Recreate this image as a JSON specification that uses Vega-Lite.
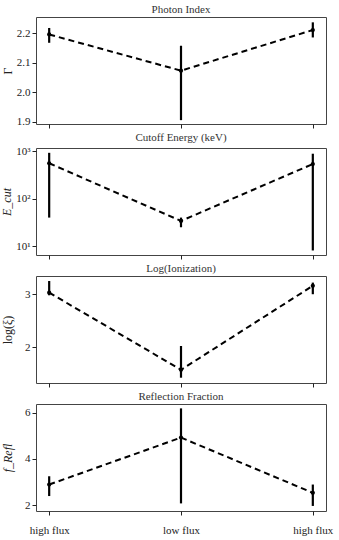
{
  "$schema": "https://vega.github.io/schema/vega-lite/v6.json",
  "padding": {"left": 0, "top": 3, "right": 10, "bottom": 1},
  "spacing": 2,
  "resolve": {"scale": {"y": "independent", "x": "independent"}, "axis": {"y": "independent"}},
  "config": {
    "font": "Liberation Serif",
    "view": {"stroke": "#444", "strokeWidth": 1},
    "title": {"font": "Liberation Serif", "fontSize": 11, "fontWeight": "normal", "color": "#333", "offset": 2},
    "axis": {"grid": false, "labelFont": "Liberation Serif", "titleFont": "Liberation Serif", "labelFontSize": 11, "titleFontSize": 12, "titleFontWeight": "normal", "labelColor": "#222", "titleColor": "#222", "tickColor": "#222", "domainColor": "#444", "tickSize": 4, "labelOverlap": false}
  },
  "datasets": {
    "fit": [
      {"panel": "gamma", "x": 0, "v": 2.195, "lo": 2.167, "hi": 2.217},
      {"panel": "gamma", "x": 1, "v": 2.073, "lo": 1.906, "hi": 2.157},
      {"panel": "gamma", "x": 2, "v": 2.21, "lo": 2.185, "hi": 2.236},
      {"panel": "ecut", "x": 0, "v": 560, "lo": 40, "hi": 930},
      {"panel": "ecut", "x": 1, "v": 34, "lo": 25, "hi": 40},
      {"panel": "ecut", "x": 2, "v": 540, "lo": 8.1, "hi": 890},
      {"panel": "xi", "x": 0, "v": 3.03, "lo": 2.98, "hi": 3.25},
      {"panel": "xi", "x": 1, "v": 1.57, "lo": 1.42, "hi": 2.02},
      {"panel": "xi", "x": 2, "v": 3.16, "lo": 3.0, "hi": 3.22},
      {"panel": "refl", "x": 0, "v": 2.89, "lo": 2.39, "hi": 3.25},
      {"panel": "refl", "x": 1, "v": 4.93, "lo": 2.07, "hi": 6.2},
      {"panel": "refl", "x": 2, "v": 2.53, "lo": 1.96, "hi": 2.89}
    ]
  },
  "vconcat": [
    {
      "title": "Photon Index",
      "width": 290, "height": 107,
      "data": {"name": "fit"},
      "transform": [{"filter": "datum.panel === 'gamma'"}],
      "encoding": {
        "x": {"field": "x", "type": "quantitative", "scale": {"domain": [-0.1, 2.1], "nice": false, "zero": false}, "axis": {"values": [0, 1, 2], "labels": false, "title": null, "domain": false}},
        "y": {"field": "v", "type": "quantitative", "scale": {"domain": [1.893, 2.254], "nice": false, "zero": false}, "axis": {"values": [1.9, 2.0, 2.1, 2.2], "format": ".1f", "title": "Γ", "domain": false, "titlePadding": 2}}
      },
      "layer": [
        {"mark": {"type": "line", "color": "black", "strokeWidth": 2, "strokeDash": [6, 4]}},
        {"mark": {"type": "rule", "color": "black", "strokeWidth": 2.2},
         "encoding": {"y": {"field": "lo", "type": "quantitative"}, "y2": {"field": "hi"}}},
        {"mark": {"type": "point", "filled": true, "color": "black", "size": 18, "opacity": 1}}
      ]
    },
    {
      "title": "Cutoff Energy (keV)",
      "width": 290, "height": 107,
      "data": {"name": "fit"},
      "transform": [{"filter": "datum.panel === 'ecut'"}],
      "encoding": {
        "x": {"field": "x", "type": "quantitative", "scale": {"domain": [-0.1, 2.1], "nice": false, "zero": false}, "axis": {"values": [0, 1, 2], "labels": false, "title": null, "domain": false}},
        "y": {"field": "v", "type": "quantitative", "scale": {"type": "log", "domain": [6.5, 1175], "nice": false}, "axis": {"values": [10, 100, 1000], "labelExpr": "datum.value == 10 ? '10¹' : datum.value == 100 ? '10²' : '10³'", "title": "E_cut", "titleFontStyle": "italic", "domain": false, "titlePadding": 2}}
      },
      "layer": [
        {"mark": {"type": "line", "color": "black", "strokeWidth": 2, "strokeDash": [6, 4]}},
        {"mark": {"type": "rule", "color": "black", "strokeWidth": 2.2},
         "encoding": {"y": {"field": "lo", "type": "quantitative"}, "y2": {"field": "hi"}}},
        {"mark": {"type": "point", "filled": true, "color": "black", "size": 18, "opacity": 1}}
      ]
    },
    {
      "title": "Log(Ionization)",
      "width": 290, "height": 107,
      "data": {"name": "fit"},
      "transform": [{"filter": "datum.panel === 'xi'"}],
      "encoding": {
        "x": {"field": "x", "type": "quantitative", "scale": {"domain": [-0.1, 2.1], "nice": false, "zero": false}, "axis": {"values": [0, 1, 2], "labels": false, "title": null, "domain": false}},
        "y": {"field": "v", "type": "quantitative", "scale": {"domain": [1.32, 3.345], "nice": false, "zero": false}, "axis": {"values": [2, 3], "format": "d", "title": "log(ξ)", "domain": false, "titlePadding": 10}}
      },
      "layer": [
        {"mark": {"type": "line", "color": "black", "strokeWidth": 2, "strokeDash": [6, 4]}},
        {"mark": {"type": "rule", "color": "black", "strokeWidth": 2.2},
         "encoding": {"y": {"field": "lo", "type": "quantitative"}, "y2": {"field": "hi"}}},
        {"mark": {"type": "point", "filled": true, "color": "black", "size": 18, "opacity": 1}}
      ]
    },
    {
      "title": "Reflection Fraction",
      "width": 290, "height": 107,
      "data": {"name": "fit"},
      "transform": [{"filter": "datum.panel === 'refl'"}],
      "encoding": {
        "x": {"field": "x", "type": "quantitative", "scale": {"domain": [-0.1, 2.1], "nice": false, "zero": false}, "axis": {"values": [0, 1, 2], "labelExpr": "datum.value == 1 ? 'low flux' : 'high flux'", "labelPadding": 9, "title": null, "domain": false}},
        "y": {"field": "v", "type": "quantitative", "scale": {"domain": [1.74, 6.39], "nice": false, "zero": false}, "axis": {"values": [2, 4, 6], "format": "d", "title": "f_Refl", "titleFontStyle": "italic", "domain": false, "titlePadding": 10}}
      },
      "layer": [
        {"mark": {"type": "line", "color": "black", "strokeWidth": 2, "strokeDash": [6, 4]}},
        {"mark": {"type": "rule", "color": "black", "strokeWidth": 2.2},
         "encoding": {"y": {"field": "lo", "type": "quantitative"}, "y2": {"field": "hi"}}},
        {"mark": {"type": "point", "filled": true, "color": "black", "size": 18, "opacity": 1}}
      ]
    }
  ]
}
